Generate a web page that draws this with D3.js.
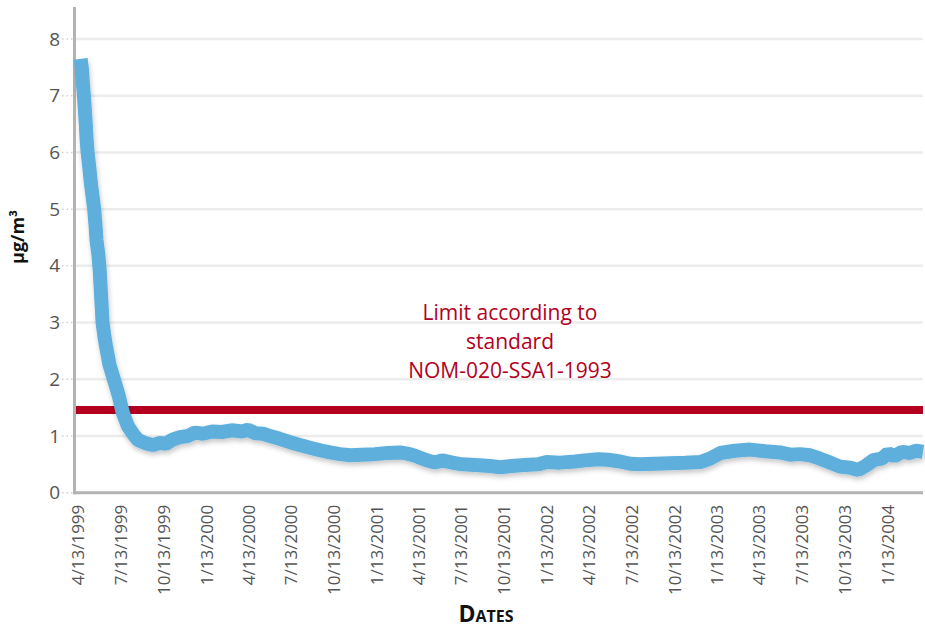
<!DOCTYPE html>
<html><head><meta charset="utf-8">
<script src="https://cdn.jsdelivr.net/npm/d3@7"></script>
<style>
body{margin:0;background:#fff;}
svg{display:block;font-family:"Open Sans",sans-serif;}
</style></head>
<body>
<svg id="chart" width="925" height="631"></svg>
<script>
// ---- data ----
const dates = [
"1999-04-19","1999-04-22","1999-04-24","1999-04-26","1999-04-28","1999-04-30","1999-05-02","1999-05-04","1999-05-08","1999-05-11",
"1999-05-15","1999-05-18","1999-05-21","1999-05-23","1999-05-27","1999-05-30","1999-06-02","1999-06-05","1999-06-09","1999-06-12",
"1999-06-20","1999-07-01","1999-07-10","1999-07-18","1999-07-29","1999-08-11",
"1999-08-20","1999-09-06","1999-09-21","1999-10-06","1999-10-19","1999-11-01","1999-11-18","1999-12-05",
"1999-12-20","2000-01-06","2000-01-26","2000-02-16","2000-03-08","2000-03-30","2000-04-12","2000-04-27","2000-05-14","2000-06-02",
"2000-06-19","2000-07-11","2000-08-01","2000-08-29","2000-09-18","2000-10-05","2000-10-26","2000-11-17","2000-12-12","2001-01-09",
"2001-02-06","2001-03-04","2001-03-19","2001-04-05","2001-04-27","2001-05-18","2001-06-02","2001-06-24","2001-07-15","2001-08-12",
"2001-09-13","2001-10-05","2001-10-30","2001-11-27","2001-12-25","2002-01-13","2002-02-10","2002-03-15","2002-04-05","2002-05-03",
"2002-05-24","2002-06-19","2002-07-11","2002-08-01","2002-09-02","2002-10-04","2002-11-06","2002-12-08","2002-12-29","2003-01-20",
"2003-02-21","2003-03-25","2003-04-26","2003-05-28","2003-06-19","2003-07-10","2003-08-01","2003-08-22","2003-09-13","2003-10-04",
"2003-10-26","2003-11-12","2003-11-29","2003-12-16","2004-01-02","2004-01-15","2004-01-28","2004-02-14","2004-03-02","2004-03-15",
"2004-03-30"];
const values = [
7.65,7.45,7.2,7.0,6.75,6.5,6.2,6.0,5.7,5.45,
5.2,5.0,4.7,4.45,4.2,3.9,3.45,3.0,2.75,2.6,
2.25,1.95,1.7,1.42,1.18,1.02,
0.93,0.87,0.84,0.88,0.86,0.93,0.98,1.0,
1.06,1.04,1.08,1.07,1.1,1.08,1.11,1.05,1.04,0.99,
0.95,0.89,0.84,0.78,0.74,0.71,0.68,0.66,0.67,0.68,
0.70,0.71,0.69,0.65,0.58,0.53,0.57,0.53,0.50,0.49,
0.47,0.45,0.47,0.49,0.50,0.54,0.53,0.55,0.57,0.59,
0.58,0.55,0.51,0.50,0.51,0.52,0.53,0.54,0.60,0.70,
0.74,0.76,0.73,0.71,0.67,0.68,0.66,0.60,0.53,0.46,
0.44,0.40,0.48,0.58,0.60,0.70,0.64,0.72,0.70,0.74,
0.72];
const limitValue = 1.46;
const limitLabel = ["Limit according to", "standard", "NOM-020-SSA1-1993"];
const tickLabels = ["4/13/1999","7/13/1999","10/13/1999","1/13/2000","4/13/2000","7/13/2000","10/13/2000",
"1/13/2001","4/13/2001","7/13/2001","10/13/2001","1/13/2002","4/13/2002","7/13/2002","10/13/2002",
"1/13/2003","4/13/2003","7/13/2003","10/13/2003","1/13/2004"];
const yTicks = [0,1,2,3,4,5,6,7,8];
const domainStart = "1999-04-09", domainEnd = "2004-03-30";

// ---- drawing ----
const svg = d3.select("#chart");
const parseISO = d3.timeParse("%Y-%m-%d");
const parseUS = d3.timeParse("%m/%d/%Y");
const fmt = d3.timeFormat("%-m/%-d/%Y");
const L = 76, R = 923, T = 7, B = 492.7;

const x = d3.scaleTime().domain([parseISO(domainStart), parseISO(domainEnd)]).range([L, R]);
const y = d3.scaleLinear().domain([0, 8]).range([B, 39]);

const defs = svg.append("defs");
const f = defs.append("filter").attr("id","sh").attr("x","-10%").attr("y","-10%").attr("width","120%").attr("height","130%");
f.append("feDropShadow").attr("dx",1).attr("dy",3).attr("stdDeviation",2.5)
 .attr("flood-color","#000").attr("flood-opacity",0.22);

// gridlines
svg.append("g").selectAll("line").data(yTicks.filter(d => d > 0)).join("line")
  .attr("x1", L).attr("x2", R).attr("y1", d => y(d)).attr("y2", d => y(d))
  .attr("stroke", "#ececec").attr("stroke-width", 2.5);

// y axis labels
const yAx = svg.append("g").attr("transform", `translate(${L-1},0)`)
  .call(d3.axisLeft(y).tickValues(yTicks).tickSize(0).tickPadding(15));
yAx.select(".domain").remove();
yAx.selectAll("text").attr("font-size", 19).attr("fill", "#555").attr("font-family", "'Open Sans',sans-serif");
// dotted leaders
svg.append("g").selectAll("line").data(yTicks).join("line")
  .attr("x1", L-14).attr("x2", L-2).attr("y1", d => y(d)).attr("y2", d => y(d))
  .attr("stroke", "#cfcfcf").attr("stroke-width", 1.5).attr("stroke-dasharray", "1.5,3");

// x axis labels
const xAx = svg.append("g").attr("transform", `translate(0,${B})`)
  .call(d3.axisBottom(x).tickValues(tickLabels.map(parseUS)).tickFormat(fmt).tickSize(0));
xAx.select(".domain").remove();
xAx.selectAll("text")
  .attr("font-size", 17).attr("fill", "#555").attr("font-family", "'Open Sans',sans-serif")
  .attr("text-anchor", "end").attr("transform", "rotate(-90)")
  .attr("x", -12).attr("y", 0).attr("dy", "0.35em");

// axis lines
svg.append("line").attr("x1", L-1.5).attr("x2", L-1.5).attr("y1", T).attr("y2", B+1.5)
  .attr("stroke", "#b3b3b3").attr("stroke-width", 3);
svg.append("line").attr("x1", L-3).attr("x2", R).attr("y1", B).attr("y2", B)
  .attr("stroke", "#b3b3b3").attr("stroke-width", 3);

// limit line
svg.append("line").attr("x1", L).attr("x2", R).attr("y1", y(limitValue)).attr("y2", y(limitValue))
  .attr("stroke", "#b3001e").attr("stroke-width", 8);
svg.append("g").selectAll("text").data(limitLabel).join("text")
  .attr("x", 510).attr("y", (d, i) => 320 + i * 29)
  .attr("text-anchor", "middle").attr("font-size", 21).attr("fill", "#b3001e")
  .attr("font-family", "'Open Sans',sans-serif")
  .text(d => d);

// series line
const data = dates.map((d, i) => ({date: parseISO(d), value: values[i]}));
svg.append("path").datum(data)
  .attr("d", d3.line().x(d => x(d.date)).y(d => y(d.value)))
  .attr("fill", "none").attr("stroke", "#5eafdc").attr("stroke-width", 14)
  .attr("stroke-linejoin", "bevel").attr("stroke-linecap", "butt")
  .attr("filter", "url(#sh)");

// axis titles
svg.append("text").attr("transform", "translate(24,237) rotate(-90)")
  .attr("text-anchor", "middle").attr("font-size", 18).attr("font-weight", "bold").attr("fill", "#111")
  .text("µg/m³");
svg.append("text").attr("x", 486).attr("y", 622)
  .attr("text-anchor", "middle").attr("font-size", 23).attr("font-weight", "bold")
  .attr("font-variant", "small-caps").attr("fill", "#111")
  .text("Dates");
</script>
</body></html>
